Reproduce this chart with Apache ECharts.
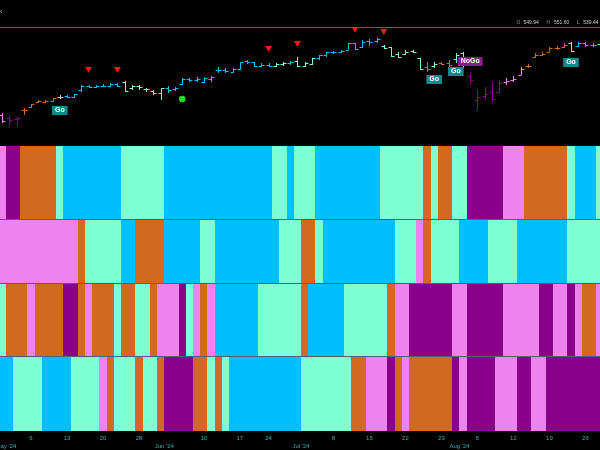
<!DOCTYPE html>
<html><head><meta charset="utf-8">
<script src="https://cdn.jsdelivr.net/npm/echarts/dist/echarts.min.js"></script>
<style>html,body{margin:0;padding:0;background:#000;}#c{width:600px;height:450px;}</style>
</head><body><div id="c"></div>
<script>
// trading days (2024)
const dates = ['04-30','05-01','05-02','05-03','05-06','05-07','05-08','05-09','05-10','05-13','05-14','05-15','05-16','05-17','05-20','05-21','05-22','05-23','05-24','05-28','05-29','05-30','05-31',
'06-03','06-04','06-05','06-06','06-07','06-10','06-11','06-12','06-13','06-14','06-17','06-18','06-20','06-21','06-24','06-25','06-26','06-27','06-28',
'07-01','07-02','07-03','07-05','07-08','07-09','07-10','07-11','07-12','07-15','07-16','07-17','07-18','07-19','07-22','07-23','07-24','07-25','07-26','07-29','07-30','07-31',
'08-01','08-02','08-05','08-06','08-07','08-08','08-09','08-12','08-13','08-14','08-15','08-16','08-19','08-20','08-21','08-22','08-23','08-26','08-27','08-28'];

const open  = [504.0,501.8,501.0,507.8,510.0,513.8,513.8,514.5,517.5,518.3,517.5,522.8,525.8,525.0,525.8,525.8,527.3,528.8,524.3,525.8,523.5,522.0,520.5,
524.3,523.5,527.3,531.0,530.3,528.8,531.0,537.8,537.8,536.3,538.5,544.5,543.8,540.8,541.5,540.8,542.3,543.0,544.5,
540.8,542.3,546.8,549.0,551.3,551.3,552.8,558.0,555.0,559.5,559.5,555.8,555.0,549.8,549.8,552.0,546.8,540.0,540.8,543.0,543.0,546.0,
550.5,533.3,515.3,518.3,521.3,521.3,528.8,530.3,534.0,540.8,547.5,549.0,551.3,554.3,555.0,558.0,555.8,558.0,556.5,557.3];
const high  = [505.5,504.0,502.5,509.3,512.3,515.3,515.3,516.8,519.0,519.0,519.8,526.5,526.5,526.5,527.3,528.0,528.0,529.5,526.5,526.5,524.3,522.8,524.3,
525.8,525.0,531.8,531.8,532.5,532.5,533.3,540.0,539.3,539.3,543.8,545.3,543.8,543.0,543.0,543.0,543.8,544.5,547.5,
543.8,546.8,549.0,551.3,552.0,552.8,558.0,558.0,560.3,561.0,561.8,556.5,555.0,551.3,552.8,552.8,546.8,543.8,543.8,543.8,545.3,550.5,
551.3,534.8,522.8,525.0,528.8,530.3,531.8,533.3,540.0,542.3,550.5,551.3,555.0,555.8,558.0,558.8,558.8,558.8,558.0,558.0];
const low   = [498.0,495.8,495.8,504.0,509.3,513.0,513.0,513.8,516.0,516.8,516.8,521.3,524.3,524.3,525.0,525.0,525.0,521.3,522.8,522.8,521.3,519.0,515.3,
520.5,522.0,526.5,528.8,528.8,528.0,528.8,535.5,535.5,535.5,537.8,542.3,540.0,540.0,540.0,540.0,540.8,541.5,540.0,
540.0,541.5,545.3,547.5,549.8,550.5,552.8,552.8,554.3,555.8,558.0,553.5,547.5,546.8,549.0,550.5,537.8,536.3,539.3,541.5,540.0,543.0,
539.3,526.5,507.8,515.3,513.8,520.5,526.5,528.8,534.0,539.3,546.8,548.3,551.3,552.8,554.3,551.3,555.0,555.0,555.0,555.0];
const close = [499.5,500.3,501.8,507.8,512.3,514.5,514.5,516.8,517.5,517.5,519.8,525.8,525.0,525.8,525.8,527.3,525.8,522.0,525.8,525.0,523.5,520.5,524.3,
522.8,524.3,531.0,530.3,531.0,531.8,532.5,537.8,537.0,538.5,543.8,543.8,540.8,541.5,540.8,542.3,543.0,543.8,540.8,
543.0,546.8,549.0,551.3,551.3,552.0,558.0,553.5,558.8,558.8,561.0,554.3,548.3,547.5,551.3,551.3,538.5,538.5,542.3,542.3,541.5,549.0,
542.3,530.3,517.5,519.8,516.0,528.0,529.5,531.0,538.5,540.8,549.0,549.8,554.3,554.3,556.5,552.0,558.0,556.5,556.5,555.8];

// GoNoGo colour codes per trading day: V violet, P purple, C chocolate, B deepskyblue, A aquamarine
const trendBand  = 'VPPCCCCCABBBBBBBBAAAAAABBBBBBBBBBBBBBBAABAAABBBBBBBBBAAAAAACACCAAPPPPPVVVCCCCCCABBBA';
const band2Codes = 'VVVVVVVVVVVCAAAAABBCCCCBBBBBAABBBBBBBBBAAACCABBBBBBBBBBAAAVCAAAABBBBAAAABBBBBBBAAAAA';
const band3Codes = 'ACCCVCCCCPPCVCCCACCAACVVVPAVCVBBBBBBAAAAAACBBBBBAAAAAACVVPPPPPPVVPPPPPVVVVVPPVVPVCCV';
const band4Codes = 'BBAAAABBBBAAAAVCAAACAACPPPPCCACABBBBBBBBBBAAAAAAACCVVVPCVCCCCCCPVPPPPVVVPPVVPPPPPPPP';
const palette = {V:'#EE82EE', P:'#8B008B', C:'#D2691E', B:'#00BFFF', A:'#7FFFD4'};

// markers
const sellDates = ['05-16','05-22','06-24','06-28','07-11','07-15','07-17'];
const sellLevel = [537.8,537.8,553.5,557.3,568.0,571.1,566.3];
const dotDates = ['06-05'];
const dotLevel = [516.0];
const goDates = ['05-10','07-26','07-31','08-22'];
const goLevel = [507.4,530.6,536.6,543.4];
const noGoDates = ['08-02'];
const noGoLevel = [544.1];

// axis tick labels
const dayTicks = ['05-06','05-13','05-20','05-28','06-10','06-17','06-24','07-08','07-15','07-22','07-29','08-05','08-12','08-19','08-26'];
const dayTickLabels = ['6','13','20','28','10','17','24','8','15','22','29','5','12','19','26'];
const monthTicks = ['05-01','06-03','07-01','08-01'];
const monthTickLabels = ["May '24","Jun '24","Jul '24","Aug '24"];

const FONT = 'Liberation Sans, Arial, sans-serif';
const chart = echarts.init(document.getElementById('c'), null, {renderer:'canvas'});

const ohlcData = dates.map((d,i)=>[i, open[i], high[i], low[i], close[i]]);
function bandData(codes){ return dates.map((d,i)=>[i, 1, codes[i]]); }

function ohlcRender(params, api){
  const i = api.value(0);
  const x = Math.round(api.coord([i, 0])[0]) + 0.5;
  const yo = Math.round(api.coord([i, api.value(1)])[1]) + 0.5;
  const yh = api.coord([i, api.value(2)])[1];
  const yl = api.coord([i, api.value(3)])[1];
  const yc = Math.round(api.coord([i, api.value(4)])[1]) + 0.5;
  const t = 3;
  const col = palette[trendBand[i]];
  const st = {stroke: col, lineWidth: 1};
  return {type:'group', children:[
    {type:'line', shape:{x1:x, y1:yh, x2:x, y2:yl}, style:st},
    {type:'line', shape:{x1:x-t, y1:yo, x2:x, y2:yo}, style:st},
    {type:'line', shape:{x1:x, y1:yc, x2:x+t, y2:yc}, style:st}
  ]};
}
const band_codes_by_series = {};
function bandRender(params, api){
  const i = api.value(0);
  const top = api.coord([i, 1]);
  const bot = api.coord([i, 0]);
  const w = api.size([1,0])[0];
  const x0 = Math.round(top[0]-w/2), x1 = Math.round(top[0]+w/2);
  const y0 = Math.round(top[1]), y1 = Math.round(bot[1]);
  const code = band_codes_by_series[params.seriesIndex][i];
  return {type:'rect', shape:{x:x0, y:y0, width:x1-x0, height:y1-y0},
    style:{fill: palette[code], stroke:null, lineWidth:0}};
}

function triRender(params, api){
  const p = api.coord([api.value(0), api.value(1)]);
  return {type:'polygon', shape:{points:[[p[0]-3.5,p[1]-3],[p[0]+3.5,p[1]-3],[p[0],p[1]+3]]}, style:{fill:'#ff1414'}};
}
function dotRender(params, api){
  const p = api.coord([api.value(0), api.value(1)]);
  return {type:'circle', shape:{cx:p[0], cy:p[1], r:3.3}, style:{fill:'#22dd22'}};
}
function tagRender(txt, bg){
  return function(params, api){
    const p = api.coord([api.value(0), api.value(1)]);
    return {type:'text', x:p[0], y:p[1], style:{text:txt, fill:'#ffffff', backgroundColor:bg,
      padding:[1,3,1,3], font:'bold 7px '+FONT, align:'center', verticalAlign:'middle'}};
  };
}

const gridX = {left:-1.4, width:604.8, outerBoundsMode:'none', containLabel:false};
const grids = [
  Object.assign({top:27, height:118}, gridX),
  Object.assign({top:146, height:73}, gridX),
  Object.assign({top:219, height:64}, gridX),
  Object.assign({top:283, height:73.5}, gridX),
  Object.assign({top:356.5, height:74.5}, gridX)
];
const sepLine = {show:true, lineStyle:{color:'#4e6378', width:1}};
const xAxes = [
  {gridIndex:0, type:'category', data:dates, position:'top', boundaryGap:true,
   axisLine:{show:true, lineStyle:{color:'#2f7a66', width:1}}, axisTick:{show:false}, axisLabel:{show:false}, z:10},
  {gridIndex:1, type:'category', data:dates, position:'bottom', axisLine:sepLine, axisTick:{show:false}, axisLabel:{show:false}, z:10},
  {gridIndex:2, type:'category', data:dates, position:'bottom', axisLine:sepLine, axisTick:{show:false}, axisLabel:{show:false}, z:10},
  {gridIndex:3, type:'category', data:dates, position:'bottom', axisLine:sepLine, axisTick:{show:false}, axisLabel:{show:false}, z:10},
  {gridIndex:4, type:'category', data:dates, position:'bottom', axisLine:{show:false}, axisTick:{show:false},
   axisLabel:{
     interval:(idx, val)=> dayTicks.indexOf(val)>=0 || monthTicks.indexOf(val)>=0,
     formatter:(val)=>{ const m = monthTicks.indexOf(val); if(m>=0) return '\n{m|'+monthTickLabels[m]+'}'; return dayTickLabels[dayTicks.indexOf(val)]; },
     color:'#3aaeb8', fontSize:6, lineHeight:8, margin:3, fontFamily:FONT, hideOverlap:false,
     rich:{m:{fontSize:6, lineHeight:8, color:'#3aaeb8', fontFamily:FONT, padding:[0,7,0,0]}}
   }}
];
const yAxes = [
  {gridIndex:0, type:'value', min:481.5, max:570, show:false},
  {gridIndex:1, type:'value', min:0, max:1, show:false},
  {gridIndex:2, type:'value', min:0, max:1, show:false},
  {gridIndex:3, type:'value', min:0, max:1, show:false},
  {gridIndex:4, type:'value', min:0, max:1, show:false}
];
const bandCodes = [trendBand, band2Codes, band3Codes, band4Codes];
const series = [
  {type:'custom', xAxisIndex:0, yAxisIndex:0, renderItem:ohlcRender, data:ohlcData, clip:true, encode:{x:0, y:[1,2,3,4]}, z:2},
  {type:'custom', xAxisIndex:0, yAxisIndex:0, renderItem:triRender, data:sellDates.map((d,k)=>[dates.indexOf(d), sellLevel[k]]), clip:true, z:3},
  {type:'custom', xAxisIndex:0, yAxisIndex:0, renderItem:dotRender, data:dotDates.map((d,k)=>[dates.indexOf(d), dotLevel[k]]), clip:true, z:3},
  {type:'custom', xAxisIndex:0, yAxisIndex:0, renderItem:tagRender('Go','#13898c'), data:goDates.map((d,k)=>[dates.indexOf(d), goLevel[k]]), clip:false, z:4},
  {type:'custom', xAxisIndex:0, yAxisIndex:0, renderItem:tagRender('NoGo','#8b1a8b'), data:noGoDates.map((d,k)=>[dates.indexOf(d), noGoLevel[k]]), clip:false, z:4}
];
bandCodes.forEach((codes, b)=>{
  band_codes_by_series[series.length] = codes;
  series.push({type:'custom', xAxisIndex:b+1, yAxisIndex:b+1, renderItem:bandRender, data:bandData(codes), clip:true, z:2});
});

chart.setOption({
  backgroundColor:'#000',
  animation:false,
  grid:grids, xAxis:xAxes, yAxis:yAxes, series:series,
  graphic:[
    {type:'text', x:0, y:9, style:{text:'‹', fill:'#cccccc', font:'7px '+FONT}},
    {type:'text', x:516.5, y:20, style:{text:'O', fill:'#8c8c8c', font:'5px '+FONT}},
    {type:'text', x:523.5, y:20, style:{text:'549.94', fill:'#cfcfcf', font:'5px '+FONT}},
    {type:'text', x:546.5, y:20, style:{text:'H', fill:'#8c8c8c', font:'5px '+FONT}},
    {type:'text', x:554, y:20, style:{text:'551.60', fill:'#cfcfcf', font:'5px '+FONT}},
    {type:'text', x:577, y:20, style:{text:'L', fill:'#8c8c8c', font:'5px '+FONT}},
    {type:'text', x:583.3, y:20, style:{text:'539.44', fill:'#cfcfcf', font:'5px '+FONT}}
  ]
});
</script></body></html>
